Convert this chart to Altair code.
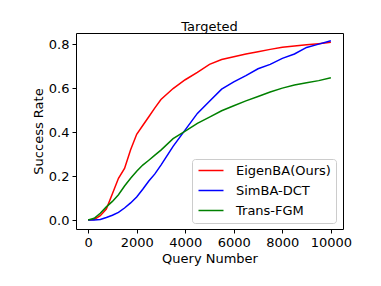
import altair as alt
import pandas as pd

queries = [0, 250, 500, 750, 1000, 1250, 1500, 1750, 2000, 2250, 2500, 2750, 3000, 3500, 4000, 4500, 5000, 5500, 6000, 6500, 7000, 7500, 8000, 8500, 9000, 9500, 10000]
eigenba = [0.0, 0.003, 0.02, 0.05, 0.12, 0.19, 0.235, 0.32, 0.39, 0.43, 0.47, 0.51, 0.548, 0.598, 0.638, 0.672, 0.708, 0.73, 0.743, 0.755, 0.765, 0.776, 0.786, 0.791, 0.797, 0.802, 0.808]
simba = [0.0, 0.0, 0.003, 0.012, 0.022, 0.035, 0.055, 0.078, 0.105, 0.14, 0.178, 0.21, 0.25, 0.335, 0.41, 0.485, 0.54, 0.595, 0.628, 0.657, 0.688, 0.708, 0.735, 0.755, 0.785, 0.80, 0.815]
transfgm = [0.0, 0.008, 0.031, 0.06, 0.085, 0.115, 0.155, 0.19, 0.222, 0.25, 0.272, 0.295, 0.318, 0.37, 0.404, 0.44, 0.468, 0.497, 0.52, 0.542, 0.562, 0.582, 0.60, 0.614, 0.624, 0.634, 0.647]
series_names = ["EigenBA(Ours)", "SimBA-DCT", "Trans-FGM"]
series_colors = ["#ff0000", "#0000ff", "#008000"]

rows = []
for name, vals in zip(series_names, [eigenba, simba, transfgm]):
    for q, v in zip(queries, vals):
        rows.append({"query": q, "rate": v, "method": name})
df = pd.DataFrame(rows)

font = "DejaVu Sans"
fs = 13

chart = alt.Chart(df).mark_line(strokeWidth=1.5).encode(
    x=alt.X("query:Q", title="Query Number",
            scale=alt.Scale(domain=[-500, 10500], nice=False, zero=False),
            axis=alt.Axis(values=[0, 2000, 4000, 6000, 8000, 10000], format="d")),
    y=alt.Y("rate:Q", title="Success Rate",
            scale=alt.Scale(domain=[-0.0405, 0.8505], nice=False, zero=False),
            axis=alt.Axis(values=[0.0, 0.2, 0.4, 0.6, 0.8], format=".1f")),
    color=alt.Color("method:N", title=None,
                    scale=alt.Scale(domain=series_names, range=series_colors),
                    legend=alt.Legend(orient="none", legendX=116, legendY=126,
                                      symbolType="M-1,0H4", symbolSize=100,
                                      symbolStrokeWidth=1.5, rowPadding=6,
                                      labelFont=font, labelFontSize=fs, labelColor="black",
                                      labelOffset=26, padding=5,
                                      strokeColor="#cccccc", fillColor="white",
                                      cornerRadius=3)),
    order=alt.Order("query:Q"),
).properties(
    width=267, height=196,
    title=alt.TitleParams("Targeted", font=font, fontSize=fs, fontWeight="normal", color="black", offset=-1),
    padding={"left": 68, "top": 25, "right": 25, "bottom": 45},
    autosize=alt.AutoSizeParams(type="none"),
).configure_view(
    stroke="black", strokeWidth=1,
).configure_axis(
    domain=False, grid=False, tickColor="black", tickSize=4,
    labelFont=font, labelFontSize=fs, labelColor="black",
    titleFont=font, titleFontSize=fs, titleFontWeight="normal", titleColor="black",
    labelPadding=3, titlePadding=3,
)

chart.save("out.html", embed_options={"renderer": "svg", "actions": False})
